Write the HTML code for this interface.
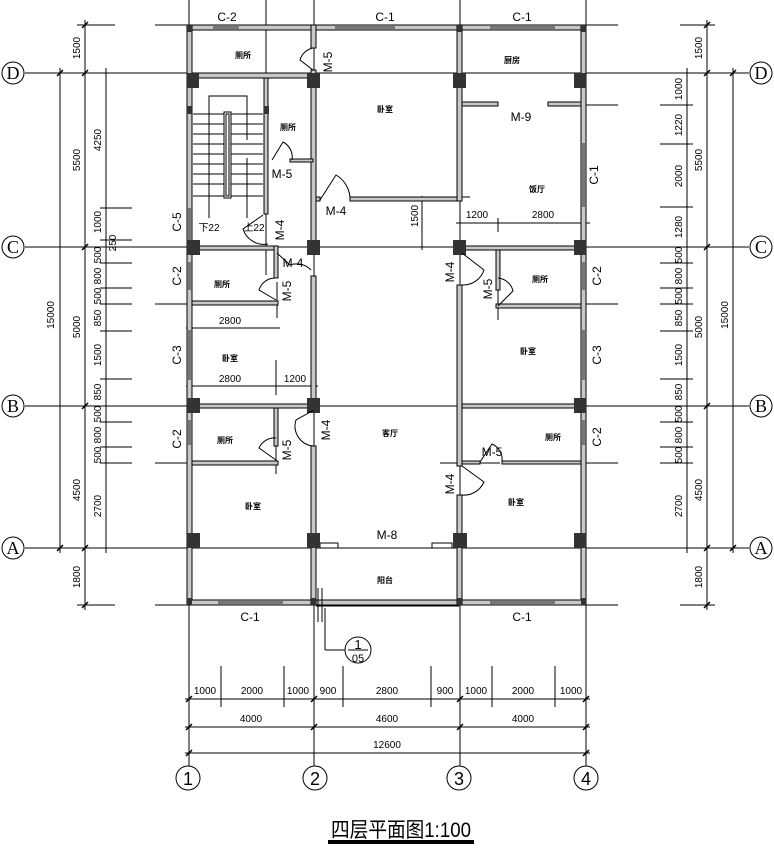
<!DOCTYPE html>
<html><head><meta charset="utf-8"><style>
html,body{margin:0;padding:0;background:#fff;}
svg{display:block;}
text{font-family:"Liberation Sans","Noto Sans CJK SC",sans-serif;fill:#000;}
.l{font-size:12px;}
.d{font-size:10px;}
.r{font-size:8px;font-weight:bold;}
</style></head><body>
<svg width="774" height="854" viewBox="0 0 774 854" xmlns="http://www.w3.org/2000/svg">
<rect width="774" height="854" fill="#fff"/>
<g stroke="#000" stroke-width="1" fill="none">
<line x1="25" y1="73" x2="749" y2="73"/>
<line x1="25" y1="247" x2="749" y2="247"/>
<line x1="25" y1="406" x2="749" y2="406"/>
<line x1="25" y1="548" x2="749" y2="548"/>
<line x1="189" y1="0" x2="189" y2="766"/>
<line x1="314" y1="0" x2="314" y2="766"/>
<line x1="460" y1="0" x2="460" y2="766"/>
<line x1="586" y1="0" x2="586" y2="766"/>
<line x1="266" y1="0" x2="266" y2="275"/>
<circle cx="13" cy="73" r="11"/><circle cx="13" cy="247" r="11"/><circle cx="13" cy="406" r="11"/><circle cx="13" cy="548" r="11"/>
<circle cx="761" cy="73" r="11"/><circle cx="761" cy="247" r="11"/><circle cx="761" cy="406" r="11"/><circle cx="761" cy="548" r="11"/>
<circle cx="188" cy="778" r="12"/><circle cx="315" cy="778" r="12"/><circle cx="459" cy="778" r="12"/><circle cx="586" cy="778" r="12"/>
<line x1="60" y1="68" x2="60" y2="553"/>
<line x1="85" y1="20" x2="85" y2="610"/>
<line x1="106" y1="68" x2="106" y2="553"/>
<line x1="77" y1="25" x2="115" y2="25"/><line x1="155" y1="25" x2="190" y2="25"/>
<line x1="77" y1="605" x2="115" y2="605"/><line x1="155" y1="605" x2="190" y2="605"/>
<line x1="100" y1="208" x2="132" y2="208"/><line x1="100" y1="240" x2="132" y2="240"/>
<line x1="100" y1="263" x2="132" y2="263"/><line x1="100" y1="288" x2="132" y2="288"/>
<line x1="100" y1="304" x2="132" y2="304"/><line x1="100" y1="331" x2="132" y2="331"/>
<line x1="100" y1="379" x2="132" y2="379"/><line x1="100" y1="422" x2="132" y2="422"/>
<line x1="100" y1="447" x2="132" y2="447"/><line x1="100" y1="463" x2="132" y2="463"/>
<line x1="155" y1="304" x2="190" y2="304"/><line x1="155" y1="463" x2="190" y2="463"/>
<line x1="687" y1="68" x2="687" y2="553"/>
<line x1="707" y1="20" x2="707" y2="610"/>
<line x1="733" y1="68" x2="733" y2="553"/>
<line x1="680" y1="25" x2="715" y2="25"/><line x1="586" y1="25" x2="618" y2="25"/>
<line x1="680" y1="605" x2="715" y2="605"/><line x1="586" y1="605" x2="618" y2="605"/>
<line x1="660" y1="105" x2="693" y2="105"/><line x1="660" y1="144" x2="693" y2="144"/>
<line x1="660" y1="207" x2="693" y2="207"/><line x1="660" y1="263" x2="693" y2="263"/>
<line x1="660" y1="288" x2="693" y2="288"/><line x1="660" y1="304" x2="693" y2="304"/>
<line x1="660" y1="331" x2="693" y2="331"/><line x1="660" y1="379" x2="693" y2="379"/>
<line x1="660" y1="422" x2="693" y2="422"/><line x1="660" y1="447" x2="693" y2="447"/>
<line x1="660" y1="463" x2="693" y2="463"/>
<line x1="586" y1="304" x2="618" y2="304"/><line x1="586" y1="463" x2="618" y2="463"/>
<line x1="586" y1="105" x2="618" y2="105"/>
<line x1="185" y1="699" x2="590" y2="699"/>
<line x1="185" y1="727" x2="590" y2="727"/>
<line x1="185" y1="753" x2="590" y2="753"/>
<line x1="221" y1="666" x2="221" y2="707"/><line x1="284" y1="666" x2="284" y2="707"/>
<line x1="343" y1="666" x2="343" y2="707"/><line x1="431" y1="666" x2="431" y2="707"/>
<line x1="492" y1="666" x2="492" y2="707"/><line x1="555" y1="666" x2="555" y2="707"/>
<line x1="186" y1="328" x2="280" y2="328"/><line x1="186" y1="386" x2="318" y2="386"/>
<line x1="276" y1="360" x2="276" y2="395"/>
<line x1="456" y1="223" x2="590" y2="223"/><line x1="498" y1="218" x2="498" y2="232"/>
<line x1="422" y1="196" x2="422" y2="250"/>
<line x1="455" y1="197" x2="470" y2="197"/>
<line x1="277" y1="282" x2="277" y2="318"/>
<line x1="276" y1="420" x2="276" y2="474"/>
<line x1="498" y1="285" x2="498" y2="320"/>
<line x1="440" y1="463" x2="500" y2="463"/>
</g>
<g stroke="#000" stroke-width="1.5">
<line x1="57" y1="76" x2="63" y2="70"/><line x1="57" y1="551" x2="63" y2="545"/>
<line x1="82" y1="28" x2="88" y2="22"/><line x1="82" y1="76" x2="88" y2="70"/><line x1="82" y1="250" x2="88" y2="244"/><line x1="82" y1="409" x2="88" y2="403"/><line x1="82" y1="551" x2="88" y2="545"/><line x1="82" y1="608" x2="88" y2="602"/>
<line x1="730" y1="76" x2="736" y2="70"/><line x1="730" y1="551" x2="736" y2="545"/>
<line x1="704" y1="28" x2="710" y2="22"/><line x1="704" y1="76" x2="710" y2="70"/><line x1="704" y1="250" x2="710" y2="244"/><line x1="704" y1="409" x2="710" y2="403"/><line x1="704" y1="551" x2="710" y2="545"/><line x1="704" y1="608" x2="710" y2="602"/>
<line x1="186" y1="702" x2="192" y2="696"/><line x1="311" y1="702" x2="317" y2="696"/><line x1="457" y1="702" x2="463" y2="696"/><line x1="583" y1="702" x2="589" y2="696"/>
<line x1="186" y1="730" x2="192" y2="724"/><line x1="311" y1="730" x2="317" y2="724"/><line x1="457" y1="730" x2="463" y2="724"/><line x1="583" y1="730" x2="589" y2="724"/>
<line x1="186" y1="756" x2="192" y2="750"/><line x1="583" y1="756" x2="589" y2="750"/>
</g>
<g stroke="#000" stroke-width="1" fill="#c8c8c8">
<rect x="187" y="25" width="399" height="5"/>
<rect x="187" y="25" width="5" height="580"/>
<rect x="581" y="25" width="5" height="580"/>
<rect x="187" y="600" width="399" height="5"/>
<rect x="192" y="73" width="121" height="5"/>
<rect x="311" y="25" width="5" height="23"/>
<rect x="311" y="70" width="5" height="177"/>
<rect x="311" y="247" width="5" height="6"/>
<rect x="311" y="276" width="5" height="134"/>
<rect x="311" y="446" width="5" height="159"/>
<rect x="316" y="197" width="4" height="4"/>
<rect x="350" y="197" width="110" height="4"/>
<rect x="457" y="25" width="5" height="176"/>
<rect x="457" y="247" width="5" height="6"/>
<rect x="457" y="285" width="5" height="181"/>
<rect x="457" y="495" width="5" height="110"/>
<rect x="462" y="102" width="36" height="4"/>
<rect x="548" y="102" width="33" height="4"/>
<rect x="264" y="78" width="4" height="136"/>
<rect x="290" y="159" width="23" height="3"/>
<rect x="192" y="246" width="84" height="4"/>
<rect x="274" y="246" width="4" height="32"/>
<rect x="192" y="301" width="86" height="4"/>
<rect x="192" y="404" width="121" height="4"/>
<rect x="274" y="408" width="4" height="38"/>
<rect x="192" y="461" width="86" height="4"/>
<rect x="462" y="246" width="119" height="4"/>
<rect x="496" y="250" width="4" height="40"/>
<rect x="496" y="304" width="85" height="4"/>
<rect x="462" y="404" width="119" height="4"/>
<rect x="462" y="461" width="18" height="3"/>
<rect x="502" y="461" width="79" height="3"/>
<rect x="320" y="543" width="18" height="5" fill="#fff"/>
<rect x="432" y="543" width="20" height="5" fill="#fff"/>
</g>
<g fill="#777">
<rect x="213" y="26" width="26" height="3"/>
<rect x="335" y="26" width="60" height="3"/>
<rect x="490" y="26" width="65" height="3"/>
<rect x="218" y="601" width="65" height="3"/>
<rect x="490" y="601" width="65" height="3"/>
<rect x="188" y="208" width="3" height="39"/>
<rect x="188" y="262" width="3" height="28"/>
<rect x="188" y="330" width="3" height="50"/>
<rect x="188" y="420" width="3" height="25"/>
<rect x="582" y="143" width="3" height="64"/>
<rect x="582" y="262" width="3" height="28"/>
<rect x="582" y="330" width="3" height="50"/>
<rect x="582" y="420" width="3" height="25"/>
</g>
<g stroke="#000" fill="none">
<line x1="316" y1="606" x2="459" y2="606"/>
<line x1="318" y1="588" x2="318" y2="622"/><line x1="322" y1="588" x2="322" y2="622"/>
<line x1="325" y1="608" x2="325" y2="650"/><line x1="325" y1="650" x2="345" y2="650"/>
<circle cx="358" cy="650" r="13"/><line x1="348" y1="650" x2="368" y2="650"/>
</g>
<g fill="#333">
<rect x="187" y="73" width="12" height="15"/><rect x="307" y="73" width="13" height="15"/><rect x="453" y="73" width="13" height="15"/><rect x="574" y="73" width="12" height="15"/>
<rect x="187" y="240" width="13" height="15"/><rect x="307" y="240" width="13" height="15"/><rect x="453" y="240" width="13" height="15"/><rect x="574" y="240" width="12" height="15"/>
<rect x="187" y="398" width="13" height="15"/><rect x="307" y="398" width="13" height="15"/><rect x="574" y="398" width="12" height="15"/>
<rect x="187" y="533" width="13" height="15"/><rect x="307" y="533" width="13" height="15"/><rect x="453" y="533" width="14" height="15"/><rect x="574" y="533" width="12" height="15"/>
<rect x="187" y="25" width="5" height="7"/><rect x="581" y="25" width="5" height="7"/><rect x="457" y="25" width="5" height="7"/>
<rect x="187" y="598" width="5" height="7"/><rect x="581" y="598" width="5" height="7"/><rect x="311" y="598" width="5" height="7"/><rect x="457" y="598" width="5" height="7"/>
<rect x="187" y="106" width="5" height="8"/><rect x="264" y="106" width="5" height="8"/>
</g>
<g stroke="#000" fill="none" stroke-width="1">
<line x1="193" y1="114" x2="263" y2="114"/><line x1="193" y1="124" x2="263" y2="124"/><line x1="193" y1="134" x2="263" y2="134"/>
<line x1="193" y1="144" x2="263" y2="144"/><line x1="193" y1="154" x2="263" y2="154"/><line x1="193" y1="164" x2="263" y2="164"/>
<line x1="193" y1="174" x2="263" y2="174"/><line x1="193" y1="184" x2="263" y2="184"/><line x1="193" y1="196" x2="263" y2="196"/>
<rect x="224" y="112" width="7" height="86" fill="#fff"/>
<rect x="226" y="114" width="3" height="82"/>
<polyline points="209,218 209,96 247,96 247,140"/>
<line x1="247" y1="158" x2="247" y2="218"/>
</g>
<g stroke="#000" fill="none" stroke-width="1">
<path d="M313,70 L300,60 A17,17 0 0 1 313,48"/>
<path d="M272,160 L283,142 A17,17 0 0 1 292,160"/>
<path d="M320,200 L336,175 A28,28 0 0 1 350,200"/>
<path d="M263,215 L243,229 A22,22 0 0 0 268,244"/>
<path d="M277,253 L290,265 A20,20 0 0 1 311,270"/>
<path d="M276,300 L259,290 A17,17 0 0 1 276,278"/>
<path d="M314,410 L296,420 A20,20 0 0 0 313,446"/>
<path d="M276,460 L259,448 A17,17 0 0 1 276,438"/>
<path d="M462,253 L484,270 A22,22 0 0 1 462,285"/>
<path d="M498,306 L513,291 A17,17 0 0 0 498,278"/>
<path d="M480,462 L492,444 A17,17 0 0 1 502,462"/>
<path d="M462,466 L484,482 A22,22 0 0 1 462,495"/>
</g>
<g class="l" text-anchor="middle">
<text x="227" y="21">C-2</text><text x="385" y="21">C-1</text><text x="522" y="21">C-1</text>
<text x="250" y="621">C-1</text><text x="522" y="621">C-1</text>
<text x="282" y="178">M-5</text><text x="336" y="215">M-4</text><text x="521" y="121">M-9</text>
<text x="293" y="267">M-4</text><text x="387" y="539">M-8</text><text x="492" y="456">M-5</text>
<text transform="translate(332,62) rotate(-90)">M-5</text>
<text transform="translate(598,175) rotate(-90)">C-1</text>
<text transform="translate(181,222) rotate(-90)">C-5</text>
<text transform="translate(284,230) rotate(-90)">M-4</text>
<text transform="translate(181,276) rotate(-90)">C-2</text>
<text transform="translate(291,291) rotate(-90)">M-5</text>
<text transform="translate(181,355) rotate(-90)">C-3</text>
<text transform="translate(181,439) rotate(-90)">C-2</text>
<text transform="translate(291,450) rotate(-90)">M-5</text>
<text transform="translate(330,430) rotate(-90)">M-4</text>
<text transform="translate(454,272) rotate(-90)">M-4</text>
<text transform="translate(492,289) rotate(-90)">M-5</text>
<text transform="translate(601,276) rotate(-90)">C-2</text>
<text transform="translate(601,355) rotate(-90)">C-3</text>
<text transform="translate(601,437) rotate(-90)">C-2</text>
<text transform="translate(454,484) rotate(-90)">M-4</text>
</g>
<g class="r" text-anchor="middle">
<text x="243" y="58">厕所</text><text x="385" y="112">卧室</text><text x="512" y="63">厨房</text>
<text x="288" y="130">厕所</text><text x="537" y="192">饭厅</text>
<text x="222" y="287">厕所</text><text x="230" y="361">卧室</text><text x="225" y="443">厕所</text>
<text x="253" y="509">卧室</text><text x="390" y="436">客厅</text><text x="385" y="583">阳台</text>
<text x="540" y="282">厕所</text><text x="528" y="354">卧室</text><text x="553" y="440">厕所</text><text x="516" y="505">卧室</text>
</g>
<g class="d" text-anchor="middle">
<text x="209" y="231">下22</text><text x="254" y="231">上22</text>
<text x="230" y="324">2800</text><text x="230" y="382">2800</text><text x="295" y="382">1200</text>
<text x="477" y="218">1200</text><text x="543" y="218">2800</text>
<text transform="translate(418,216) rotate(-90)">1500</text>
<text x="358" y="649" font-size="13">1</text><text x="358" y="662" font-size="11">05</text>
<text x="205" y="694">1000</text><text x="252" y="694">2000</text><text x="298" y="694">1000</text>
<text x="328" y="694">900</text><text x="387" y="694">2800</text><text x="445" y="694">900</text>
<text x="476" y="694">1000</text><text x="523" y="694">2000</text><text x="571" y="694">1000</text>
<text x="251" y="722">4000</text><text x="387" y="722">4600</text><text x="523" y="722">4000</text>
<text x="387" y="748">12600</text>
<text transform="translate(54,315) rotate(-90)">15000</text>
<text transform="translate(80,48) rotate(-90)">1500</text>
<text transform="translate(80,160) rotate(-90)">5500</text>
<text transform="translate(80,327) rotate(-90)">5000</text>
<text transform="translate(80,490) rotate(-90)">4500</text>
<text transform="translate(80,577) rotate(-90)">1800</text>
<text transform="translate(101,140) rotate(-90)">4250</text>
<text transform="translate(101,222) rotate(-90)">1000</text>
<text transform="translate(116,243) rotate(-90)">250</text>
<text transform="translate(101,255) rotate(-90)">500</text>
<text transform="translate(101,276) rotate(-90)">800</text>
<text transform="translate(101,296) rotate(-90)">500</text>
<text transform="translate(101,318) rotate(-90)">850</text>
<text transform="translate(101,355) rotate(-90)">1500</text>
<text transform="translate(101,392) rotate(-90)">850</text>
<text transform="translate(101,414) rotate(-90)">500</text>
<text transform="translate(101,435) rotate(-90)">800</text>
<text transform="translate(101,455) rotate(-90)">500</text>
<text transform="translate(101,506) rotate(-90)">2700</text>
<text transform="translate(728,315) rotate(-90)">15000</text>
<text transform="translate(702,48) rotate(-90)">1500</text>
<text transform="translate(702,160) rotate(-90)">5500</text>
<text transform="translate(702,327) rotate(-90)">5000</text>
<text transform="translate(702,490) rotate(-90)">4500</text>
<text transform="translate(702,577) rotate(-90)">1800</text>
<text transform="translate(682,89) rotate(-90)">1000</text>
<text transform="translate(682,125) rotate(-90)">1220</text>
<text transform="translate(682,176) rotate(-90)">2000</text>
<text transform="translate(682,227) rotate(-90)">1280</text>
<text transform="translate(682,255) rotate(-90)">500</text>
<text transform="translate(682,276) rotate(-90)">800</text>
<text transform="translate(682,296) rotate(-90)">500</text>
<text transform="translate(682,318) rotate(-90)">850</text>
<text transform="translate(682,355) rotate(-90)">1500</text>
<text transform="translate(682,392) rotate(-90)">850</text>
<text transform="translate(682,414) rotate(-90)">500</text>
<text transform="translate(682,435) rotate(-90)">800</text>
<text transform="translate(682,455) rotate(-90)">500</text>
<text transform="translate(682,506) rotate(-90)">2700</text>
</g>
<g font-size="18" text-anchor="middle">
<text x="13" y="79" style="font-family:'Liberation Serif',serif">D</text>
<text x="13" y="253" style="font-family:'Liberation Serif',serif">C</text>
<text x="13" y="412" style="font-family:'Liberation Serif',serif">B</text>
<text x="13" y="554" style="font-family:'Liberation Serif',serif">A</text>
<text x="761" y="79" style="font-family:'Liberation Serif',serif">D</text>
<text x="761" y="253" style="font-family:'Liberation Serif',serif">C</text>
<text x="761" y="412" style="font-family:'Liberation Serif',serif">B</text>
<text x="761" y="554" style="font-family:'Liberation Serif',serif">A</text>
<text x="188" y="785">1</text>
<text x="315" y="785">2</text>
<text x="459" y="785">3</text>
<text x="586" y="785">4</text>
</g>
<text x="331" y="837" font-size="21" textLength="140" lengthAdjust="spacingAndGlyphs">四层平面图1:100</text>
<rect x="328" y="840" width="146" height="4" fill="#000"/>
</svg>
</body></html>
